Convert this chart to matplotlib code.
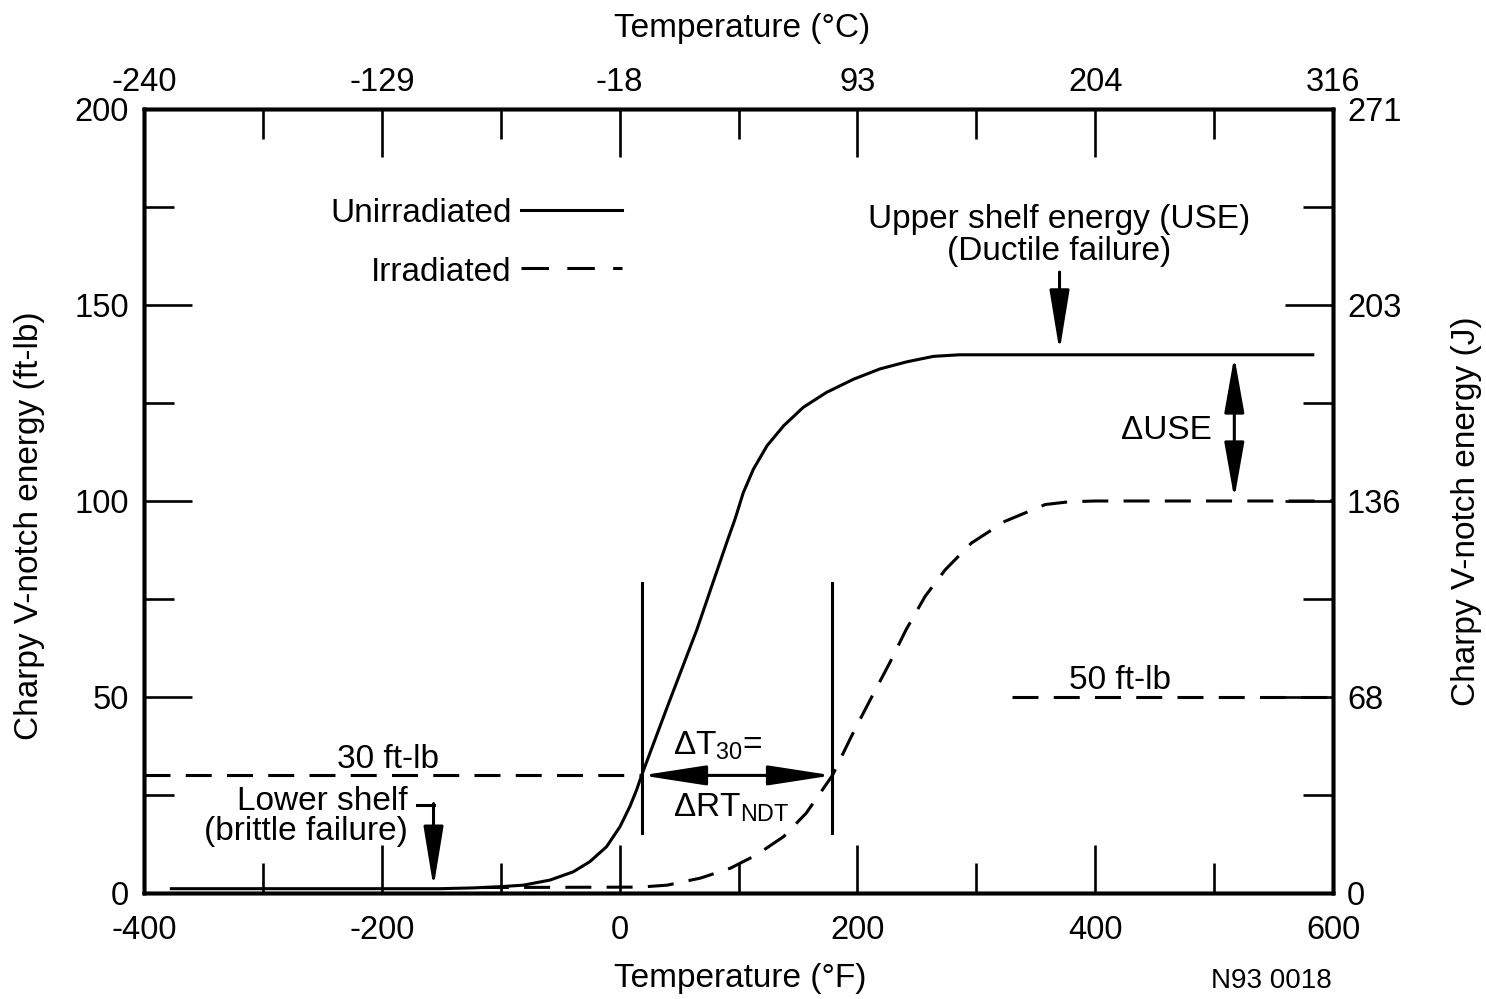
import matplotlib
matplotlib.use('Agg')
import matplotlib.pyplot as plt

plt.rcParams['font.family'] = ['Liberation Sans', 'DejaVu Sans']
plt.rcParams['mathtext.fontset'] = 'custom'
plt.rcParams['mathtext.rm'] = 'Liberation Sans'
plt.rcParams['mathtext.it'] = 'Liberation Sans'
plt.rcParams['axes.unicode_minus'] = False

# ---------------- data ----------------
unirr_temp_F = [-377, -151, -123, -101, -81, -58.5, -39, -25, -11, 0.3, 8.7, 14.3, 18.5,
                40, 65, 80, 91, 97, 104, 112.5, 124, 138, 154.5, 174, 197, 219, 241.5,
                264, 286, 583]
unirr_energy = [1.1, 1.1, 1.3, 1.6, 2.0, 3.3, 5.4, 8.0, 11.8, 16.9, 22.1, 26.3, 30,
                47.4, 67.2, 80.5, 90.2, 95.3, 102.1, 108.1, 114.1, 119.2, 123.9, 127.7,
                131.1, 133.7, 135.5, 136.9, 137.3, 137.3]

irr_temp_F = [-115, 17, 40, 68, 93, 115, 138, 157, 179, 195, 212, 227, 241, 257, 274,
              296, 324, 358, 378, 400, 600]
irr_energy = [1.4, 1.5, 2.0, 3.8, 6.3, 9.7, 14.4, 20.4, 30, 40, 50, 58.6, 67.2, 75.7,
              82.5, 89.3, 94.8, 99.1, 99.8, 100, 100]

x_ticks_F = [-400, -200, 0, 200, 400, 600]
x_minor_F = [-300, -100, 100, 300, 500]
x_tick_labels_C = ['-240', '-129', '-18', '93', '204', '316']
y_ticks_ftlb = [0, 50, 100, 150, 200]
y_minor_ftlb = [25, 75, 125, 175]
y_tick_labels_J = ['0', '68', '136', '203', '271']

ref_30 = 30
ref_50 = 50
t30_unirr = 18.5
t30_irr = 179
use_unirr = 137.3
use_irr = 100

# ---------------- figure ----------------
W, H = 1486, 999
fig = plt.figure(figsize=(W / 100, H / 100), dpi=100)
L, R, T, B = 144, 1333, 109, 893
ax = fig.add_axes([L / W, 1 - B / H, (R - L) / W, (B - T) / H])
ax.set_xlim(-400, 600)
ax.set_ylim(0, 200)

SPW = 2.5
for s in ax.spines.values():
    s.set_linewidth(SPW)

TICK_FS = 23.5
TXT_FS = 24
MAJ, MIN, TW = 34.5, 21.6, 1.9

ax.set_xticks(x_ticks_F)
ax.set_xticklabels([str(v) for v in x_ticks_F])
ax.set_xticks(x_minor_F, minor=True)
ax.set_yticks(y_ticks_ftlb)
ax.set_yticklabels([str(v) for v in y_ticks_ftlb])
ax.set_yticks(y_minor_ftlb, minor=True)
ax.tick_params(axis='x', which='both', direction='in', top=False, width=TW,
               labelsize=TICK_FS, pad=16)
ax.tick_params(axis='y', which='both', direction='in', right=False, width=TW,
               labelsize=TICK_FS, pad=11)
ax.tick_params(which='major', length=MAJ)
ax.tick_params(which='minor', length=MIN)

ax_top = ax.twiny()
ax_top.set_xlim(ax.get_xlim())
ax_top.set_xticks(x_ticks_F)
ax_top.set_xticklabels(x_tick_labels_C)
ax_top.set_xticks(x_minor_F, minor=True)
ax_top.tick_params(axis='x', which='both', direction='in', width=TW,
                   labelsize=TICK_FS, pad=8)
ax_top.tick_params(which='major', length=MAJ)
ax_top.tick_params(which='minor', length=MIN)

ax_r = ax.twinx()
ax_r.set_ylim(ax.get_ylim())
ax_r.set_yticks(y_ticks_ftlb)
ax_r.set_yticklabels(y_tick_labels_J)
ax_r.set_yticks(y_minor_ftlb, minor=True)
ax_r.tick_params(axis='y', which='both', direction='in', width=TW,
                 labelsize=TICK_FS, pad=10)
ax_r.tick_params(which='major', length=MAJ)
ax_r.tick_params(which='minor', length=MIN)
for a in (ax_top, ax_r):
    for s in a.spines.values():
        s.set_linewidth(SPW)

LW = 2.2
DASH = (0, (8.5, 5))

# curves
ax.plot(unirr_temp_F, unirr_energy, color='black', lw=LW, solid_joinstyle='round',
        zorder=3)
ax.plot(irr_temp_F, irr_energy, color='black', lw=LW, linestyle=DASH, zorder=3)

# reference dashed lines
ax.plot([-400, t30_unirr], [ref_30, ref_30], color='black', lw=LW, linestyle=DASH)
ax.plot([329.7, 600], [ref_50, ref_50], color='black', lw=LW, linestyle=DASH)
ax.text(-195, 31.8, '30 ft-lb', fontsize=TXT_FS, ha='center', va='baseline')
ax.text(421, 52.0, '50 ft-lb', fontsize=TXT_FS, ha='center', va='baseline')

# vertical markers at T30
for t in (t30_unirr, t30_irr):
    ax.plot([t, t], [15.2, 79.1], color='black', lw=LW)


def arrow(x0, y0, x1, y1, both=False, hl=52, hw=17, ms=10):
    hlp = hl / (100 / 72) / ms
    hwp = hw / 2 / (100 / 72) / ms
    style = ('<|-|>' if both else '-|>') + f',head_length={hlp:.3f},head_width={hwp:.3f}'
    ax.annotate('', xy=(x1, y1), xytext=(x0, y0),
                arrowprops=dict(arrowstyle=style, mutation_scale=ms, lw=LW,
                                color='black', shrinkA=0, shrinkB=0))


# delta T30 arrow
arrow(t30_unirr, ref_30, t30_irr, ref_30, both=True, hl=55, hw=17)
ax.text(45, 35.2, r'$\mathregular{ΔT_{30}}$=', fontsize=TXT_FS, ha='left', va='baseline')
ax.text(45, 19.4, r'$\mathregular{ΔRT_{NDT}}$', fontsize=TXT_FS, ha='left', va='baseline')

# lower shelf annotation
ax.text(-178, 21.2, 'Lower shelf', fontsize=TXT_FS, ha='right', va='baseline')
ax.text(-178, 13.5, '(brittle failure)', fontsize=TXT_FS, ha='right', va='baseline')
ax.plot([-170.8, -156.5], [22.5, 22.5], color='black', lw=LW)
arrow(-156.5, 22.8, -156.5, 1.4, hl=52, hw=17)

# upper shelf annotation
ax.text(370, 169.6, 'Upper shelf energy (USE)', fontsize=TXT_FS, ha='center', va='baseline')
ax.text(370, 161.5, '(Ductile failure)', fontsize=TXT_FS, ha='center', va='baseline')
arrow(370, 158.4, 370, 138.2, hl=52, hw=17)

# delta USE
arrow(517, use_unirr - 0.4, 517, use_irr + 0.6, both=True, hl=48, hw=17)
ax.text(460, 115.8, 'ΔUSE', fontsize=TXT_FS, ha='center', va='baseline')

# legend (drawn manually: label then line sample)
ax.text(-91, 171.2, 'Unirradiated', fontsize=TXT_FS, ha='right', va='baseline')
ax.plot([-82.8, 1.8], [174.2, 174.2], color='black', lw=LW)
ax.text(-91, 156.2, 'Irradiated', fontsize=TXT_FS, ha='right', va='baseline')
ax.plot([-82.8, 1.8], [159.4, 159.4], color='black', lw=LW, linestyle=(0, (9, 6)))

# axis titles
fig.text(740 / W, 1 - 978 / H, 'Temperature (°F)', fontsize=TXT_FS, ha='center', va='center')
fig.text(742 / W, 1 - 28 / H, 'Temperature (°C)', fontsize=TXT_FS, ha='center', va='center')
fig.text(30 / W, 1 - 526 / H, 'Charpy V-notch energy (ft-lb)', fontsize=TXT_FS,
         rotation=90, ha='center', va='center')
fig.text(1467 / W, 1 - 511 / H, 'Charpy V-notch energy (J)', fontsize=TXT_FS,
         rotation=90, ha='center', va='center')
fig.text(1332 / W, 1 - 988 / H, 'N93 0018', fontsize=20, ha='right', va='baseline')

fig.savefig('out.png', dpi=100)
